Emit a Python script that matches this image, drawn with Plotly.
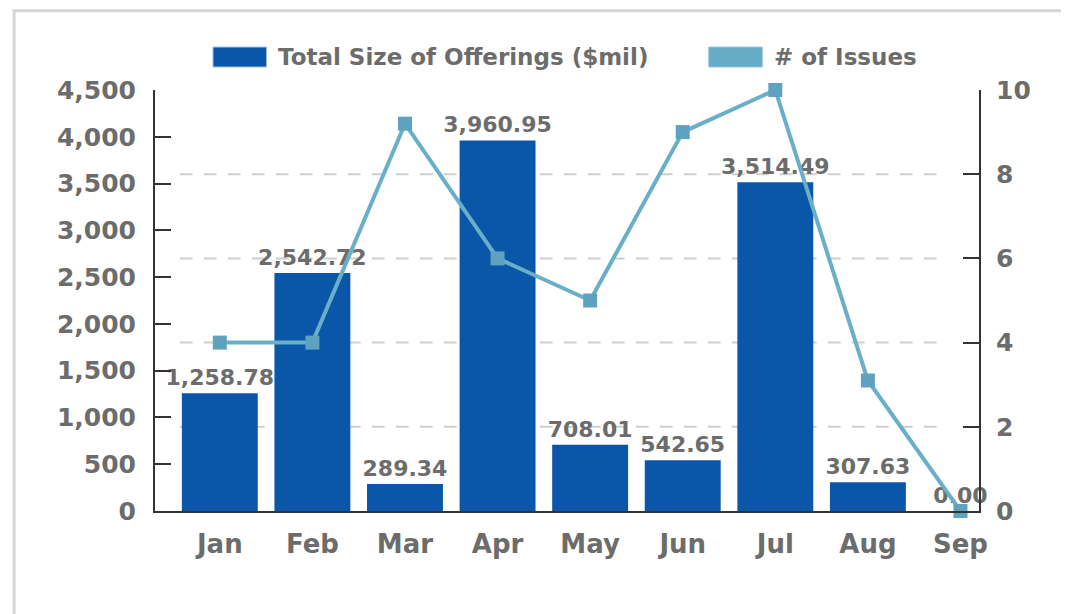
import plotly.graph_objects as go

months = ["Jan", "Feb", "Mar", "Apr", "May", "Jun", "Jul", "Aug", "Sep"]
offerings = [1258.78, 2542.72, 289.34, 3960.95, 708.01, 542.65, 3514.49, 307.63, 0.00]
issues = [4, 4, 9.2, 6, 5, 9, 10, 3.1, 0]
grid_vals = [2, 4, 6, 8]

BAR_BLUE = "#0a56a8"
LINE_BLUE = "#6aafc8"
TEXT = "#6c6c6c"
AXIS = "#333333"
FONT = "DejaVu Sans, Verdana, sans-serif"

fig = go.Figure()

fig.add_trace(
    go.Bar(
        x=months,
        y=offerings,
        name="Total Size of Offerings ($mil)",
        marker=dict(color=BAR_BLUE, line=dict(width=0)),
        texttemplate="%{y:,.2f}",
        textposition="outside",
        constraintext="none",
        textfont=dict(family=FONT, size=22, color=TEXT, weight="bold"),
        cliponaxis=False,
        showlegend=False,
    )
)

fig.add_trace(
    go.Scatter(
        x=months,
        y=issues,
        name="# of Issues",
        yaxis="y2",
        mode="lines+markers",
        line=dict(color=LINE_BLUE, width=4),
        marker=dict(symbol="square", size=14, color="#5fa2bf"),
        cliponaxis=False,
        showlegend=False,
    )
)

# dashed guide lines at the right-axis ticks (inset like the original)
for v in grid_vals:
    fig.add_shape(
        type="line", xref="paper", yref="y2",
        x0=0.03, x1=0.962, y0=v, y1=v,
        line=dict(color="#cfcfcf", width=2, dash="13px,11px"), layer="below",
    )

# legend drawn by hand so the swatches are wide blocks like the original
legend_items = [
    ("Total Size of Offerings ($mil)", BAR_BLUE, 0.0704),
    ("# of Issues", "#66acc6", 0.672),
]
for label, color, x0 in legend_items:
    fig.add_shape(
        type="rect", xref="paper", yref="paper",
        x0=x0, x1=x0 + 0.065, y0=1.0546, y1=1.102,
        fillcolor=color, line=dict(color="#9cc3e6", width=1),
    )
    fig.add_annotation(
        xref="paper", yref="paper", x=x0 + 0.077, y=1.0784,
        text=label, showarrow=False, xanchor="left", yanchor="middle",
        font=dict(family=FONT, size=23, color=TEXT, weight="bold"),
    )

# outer panel border
fig.add_shape(
    type="rect", xref="paper", yref="paper",
    x0=-0.171, x1=1.3, y0=-0.5, y1=1.188,
    line=dict(color="#d6d6d6", width=3), fillcolor="rgba(0,0,0,0)", layer="below",
)

tick_font = dict(family=FONT, size=25, color=TEXT, weight="bold")

fig.update_layout(
    width=1069,
    height=614,
    margin=dict(l=147, r=98, t=82, b=111),
    paper_bgcolor="white",
    plot_bgcolor="white",
    bargap=0.18,
    font=dict(family=FONT, color=TEXT),
    xaxis=dict(
        range=[-0.7, 8.2],
        showline=True, linecolor=AXIS, linewidth=2,
        ticks="", showgrid=False,
        tickfont=dict(family=FONT, size=26, color=TEXT, weight="bold"),
        ticklabelstandoff=9,
    ),
    yaxis=dict(
        range=[0, 4500], dtick=500, tickformat=",d",
        showline=True, linecolor=AXIS, linewidth=2,
        ticks="inside", ticklen=16, tickwidth=2, tickcolor=AXIS,
        showgrid=False, zeroline=False,
        tickfont=tick_font,
        ticklabelstandoff=12,
    ),
    yaxis2=dict(
        range=[0, 10], dtick=2, overlaying="y", side="right",
        showline=True, linecolor=AXIS, linewidth=2,
        ticks="inside", ticklen=16, tickwidth=2, tickcolor=AXIS,
        showgrid=False, zeroline=False,
        tickfont=tick_font,
        ticklabelstandoff=10,
    ),
)

fig.write_html("out.html")
